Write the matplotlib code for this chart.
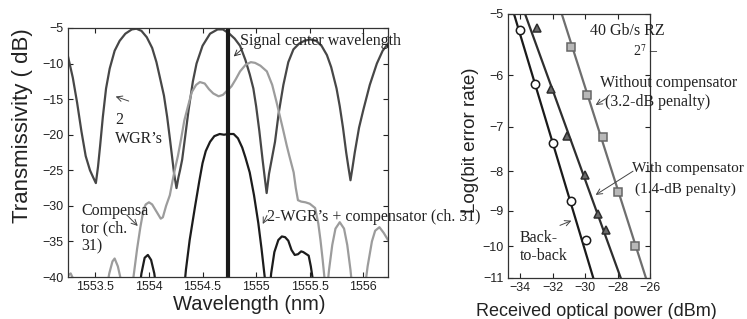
import numpy as np
import matplotlib
matplotlib.use("Agg")
import matplotlib.pyplot as plt
from matplotlib.ticker import FixedLocator, NullLocator

plt.rcParams['font.family'] = ['Liberation Sans', 'DejaVu Sans']
plt.rcParams['mathtext.fontset'] = 'stix'

SERIF = ['Liberation Serif', 'DejaVu Serif']

# ---------------- Left panel data: transmissivity spectra ----------------
wgr_x = [1553.245, 1553.29, 1553.33, 1553.37, 1553.41, 1553.45, 1553.48, 1553.505,
         1553.525, 1553.545, 1553.57, 1553.60, 1553.634, 1553.68, 1553.727, 1553.78,
         1553.84, 1553.883, 1553.93, 1553.98, 1554.03, 1554.07, 1554.10, 1554.14,
         1554.17, 1554.195, 1554.215, 1554.235, 1554.257, 1554.275, 1554.29, 1554.31,
         1554.335, 1554.37, 1554.41, 1554.444, 1554.50, 1554.57, 1554.64, 1554.69,
         1554.75, 1554.80, 1554.85, 1554.90, 1554.94, 1554.974, 1555.00, 1555.03,
         1555.06, 1555.08, 1555.098, 1555.12, 1555.145, 1555.176, 1555.21, 1555.254,
         1555.30, 1555.348, 1555.40, 1555.45, 1555.503, 1555.56, 1555.61, 1555.66,
         1555.70, 1555.75, 1555.78, 1555.81, 1555.84, 1555.86, 1555.88, 1555.90,
         1555.92, 1555.96, 1556.00, 1556.06, 1556.126, 1556.18, 1556.23]
wgr_y = [-9.0, -12.0, -15.5, -19.5, -23.0, -25.0, -26.0, -26.8,
         -24.5, -21.5, -17.5, -13.5, -10.7, -8.2, -6.8, -5.8,
         -5.2, -5.1, -5.4, -6.3, -7.8, -9.8, -11.8, -14.5,
         -17.5, -20.5, -23.0, -25.5, -27.5, -26.0, -25.0, -23.5,
         -20.6, -16.5, -12.5, -10.0, -7.5, -5.8, -5.2, -5.2,
         -5.8, -6.5, -7.5, -9.5, -11.5, -13.5, -16.0, -19.5,
         -23.5, -26.0, -28.2, -25.5, -23.5, -21.0, -17.0, -13.0,
         -9.8, -8.0, -7.2, -6.8, -6.6, -6.8, -7.5, -8.8,
         -10.5, -13.5, -16.0, -19.0, -22.5, -24.5, -26.4, -24.5,
         -22.5, -19.0, -16.5, -13.0, -10.0, -8.2, -7.2]

comp_x = [1553.245, 1553.27, 1553.30, 1553.34, np.nan,
          1553.60, 1553.63, 1553.66, 1553.68, 1553.71, 1553.74, 1553.77, np.nan,
          1553.83, 1553.86, 1553.89, 1553.92, 1553.95, 1553.97, 1554.00, 1554.03,
          1554.07, 1554.11, 1554.13, 1554.16, 1554.195, 1554.22, 1554.24, 1554.27,
          1554.30, 1554.33, 1554.366, 1554.40, 1554.44, 1554.475, 1554.52, 1554.56,
          1554.60, 1554.65, 1554.69, 1554.73, 1554.77, 1554.81, 1554.85, 1554.90,
          1554.95, 1554.99, 1555.04, 1555.10, 1555.15, 1555.19, 1555.22, 1555.25,
          1555.285, 1555.31, 1555.35, 1555.37, 1555.39, 1555.42, 1555.46, 1555.50,
          1555.55, 1555.58, 1555.60, 1555.62, 1555.64, 1555.65, np.nan,
          1555.66, 1555.68, 1555.71, 1555.74, 1555.78, 1555.82, 1555.85, 1555.88, 1555.90, np.nan,
          1556.01, 1556.04, 1556.08, 1556.11, 1556.15, 1556.19, 1556.23]
comp_y = [-39.8, -39.5, -40.5, -43.0, np.nan,
          -42.0, -39.5, -37.8, -37.4, -38.5, -40.5, -43.0, np.nan,
          -43.0, -39.5, -36.0, -33.0, -30.5, -29.8, -29.5, -29.8,
          -30.8, -31.8, -31.6, -30.0, -28.5, -26.5, -25.0, -23.0,
          -20.6, -18.0, -15.9, -14.0, -13.0, -12.6, -12.8, -13.6,
          -14.2, -14.6, -14.4, -13.8, -13.2, -12.2, -11.1, -10.2,
          -9.8, -9.9, -10.3, -11.1, -13.0, -15.4, -17.3, -19.2,
          -21.5, -23.0, -25.3, -27.5, -29.2, -29.4, -29.5, -29.7,
          -30.3, -32.5, -34.8, -37.5, -40.5, -43.0, np.nan,
          -42.0, -39.0, -35.5, -33.2, -32.3, -33.2, -35.5, -39.0, -42.0, np.nan,
          -42.0, -38.5, -35.0, -33.5, -33.0, -33.8, -34.8]

both_x = [1553.90, 1553.93, 1553.96, 1553.99, 1554.02, 1554.05, 1554.08, np.nan,
          1554.32, 1554.345, 1554.38, 1554.43, 1554.47, 1554.50, 1554.53, 1554.57,
          1554.61, 1554.66, 1554.70, 1554.74, 1554.79, 1554.83, 1554.87, 1554.90,
          1554.94, 1554.98, 1555.02, 1555.05, 1555.08, 1555.10, np.nan,
          1555.12, 1555.14, 1555.17, 1555.207, 1555.24, 1555.27, 1555.30, 1555.33,
          1555.36, 1555.39, 1555.42, 1555.44, 1555.47, 1555.49, 1555.51, 1555.53, 1555.55]
both_y = [-43.0, -39.5, -37.3, -36.9, -37.6, -39.5, -43.0, np.nan,
          -43.0, -39.0, -34.8, -30.1, -26.5, -24.0, -22.3, -21.0,
          -20.2, -19.9, -20.0, -19.9, -19.9, -20.5, -21.8, -23.2,
          -25.3, -28.5, -32.4, -36.0, -40.0, -43.0, np.nan,
          -43.0, -39.5, -36.5, -34.8, -34.3, -34.4, -34.9, -36.2,
          -36.9, -36.8, -36.4, -36.5, -36.8, -37.0, -38.5, -40.5, -43.0]

signal_wl = 1554.737

left_xticks = [1553.5, 1554, 1554.5, 1555, 1555.5, 1556]
left_xticklabels = ['1553.5', '1554', '1554.5', '1555', '1555.5', '1556']
left_yticks = [-40, -35, -30, -25, -20, -15, -10, -5]
left_yticklabels = ['\u221240', '\u221235', '\u221230', '\u221225', '\u221220', '\u221215', '\u221210', '\u22125']

# ---------------- Right panel data: BER curves ----------------
b2b_p = [-34.0, -33.08, -31.95, -30.88, -29.96]
b2b_ber = [-5.25, -6.17, -7.35, -8.73, -9.81]
with_p = [-32.97, -32.11, -31.13, -30.0, -29.22, -28.71]
with_ber = [-5.22, -6.25, -7.19, -8.08, -9.08, -9.52]
without_p = [-30.88, -29.86, -28.87, -27.95, -26.92]
without_ber = [-5.51, -6.36, -7.23, -8.51, -10.01]

fit_ber = [-5, -11]
b2b_fit_p = [-34.37, -29.49]
with_fit_p = [-33.69, -27.80]
without_fit_p = [-31.43, -26.25]

right_xticks = [-34, -32, -30, -28, -26]
right_xticklabels = ['\u221234', '\u221232', '\u221230', '\u221228', '\u221226']
right_yticks = [-11, -10, -9, -8, -7, -6, -5]
right_yticklabels = ['\u221211', '\u221210', '\u22129', '\u22128', '\u22127', '\u22126', '\u22125']

# ---------------- Figure ----------------
W, H = 747, 319
fig = plt.figure(figsize=(W / 100, H / 100), dpi=100)

def box(l, t, r, b):
    return [l / W, 1 - b / H, (r - l) / W, (b - t) / H]

ax1 = fig.add_axes(box(68, 28, 388, 277))
ax2 = fig.add_axes(box(508, 14, 650, 278))

# Left panel
ax1.plot(wgr_x, wgr_y, color='#474747', lw=1.6)
ax1.plot(comp_x, comp_y, color='#9c9c9c', lw=1.6)
ax1.plot(both_x, both_y, color='#1c1c1c', lw=1.6)
ax1.axvline(signal_wl, color='#1a1a1a', lw=3.0)
ax1.set_xlim(1553.245, 1556.23)
ax1.set_ylim(-40, -5)
ax1.xaxis.set_major_locator(FixedLocator(left_xticks))
ax1.set_xticklabels(left_xticklabels)
ax1.yaxis.set_major_locator(FixedLocator(left_yticks))
ax1.set_yticklabels(left_yticklabels)

for ax in (ax1, ax2):
    ax.tick_params(direction='in', top=True, right=True, length=3.5, width=0.8,
                   labelsize=9, colors='#222222', pad=3)
    for s in ax.spines.values():
        s.set_color('#333333')
        s.set_linewidth(0.9)

fig.text(23 / W, 1 - 126 / H, 'Transmissivity ( dB)', rotation=90, ha='center',
         va='center', fontsize=16, color='#222222')
fig.text(249 / W, 1 - 305 / H, 'Wavelength (nm)', ha='center', va='center',
         fontsize=14.5, color='#222222')

ax1.text(1554.85, -6.85, 'Signal center wavelength', fontsize=11.5, family=SERIF,
         ha='left', va='center', color='#222222', clip_on=False)
ax1.annotate('', xy=(1554.771, -9.26), xytext=(1554.896, -7.6),
             arrowprops=dict(arrowstyle='->', lw=0.7, color='#333333'))
ax1.text(1553.685, -19.3, '2\nWGR\u2019s', fontsize=11.5, family=SERIF, ha='left',
         va='center', linespacing=1.25, color='#222222')
ax1.annotate('', xy=(1553.665, -14.5), xytext=(1553.836, -15.4),
             arrowprops=dict(arrowstyle='->', lw=0.7, color='#444444'))
ax1.text(1553.37, -33.2, 'Compensa\ntor (ch.\n31)', fontsize=11.5, family=SERIF,
         ha='left', va='center', linespacing=1.15, color='#222222')
ax1.annotate('', xy=(1553.914, -33.1), xytext=(1553.774, -31.0),
             arrowprops=dict(arrowstyle='->', lw=0.7, color='#444444'))
ax1.text(1555.10, -31.5, '2-WGR\u2019s + compensator (ch. 31)', fontsize=11.5,
         family=SERIF, ha='left', va='center', color='#222222', clip_on=False)
ax1.annotate('', xy=(1555.05, -32.9), xytext=(1555.113, -31.0),
             arrowprops=dict(arrowstyle='->', lw=0.7, color='#444444'))

# Right panel
ax2.set_yscale('function', functions=(lambda y: -np.log10(np.abs(y)),
                                      lambda t: -10.0 ** (-t)))
ax2.plot(b2b_fit_p, fit_ber, color='#1a1a1a', lw=1.6)
ax2.plot(with_fit_p, fit_ber, color='#2e2e2e', lw=1.6)
ax2.plot(without_fit_p, fit_ber, color='#6e6e6e', lw=1.6)
ax2.plot(b2b_p, b2b_ber, ls='none', marker='o', ms=6, mfc='white', mec='#1a1a1a', mew=1.1)
ax2.plot(with_p, with_ber, ls='none', marker='^', ms=6, mfc='#6a6a6a', mec='#2e2e2e', mew=1.1)
ax2.plot(without_p, without_ber, ls='none', marker='s', ms=5.5, mfc='#b8b8b8', mec='#666666', mew=1.1)
ax2.set_xlim(-34.74, -26.0)
ax2.set_ylim(-11, -5)
ax2.xaxis.set_major_locator(FixedLocator(right_xticks))
ax2.set_xticklabels(right_xticklabels)
ax2.yaxis.set_major_locator(FixedLocator(right_yticks))
ax2.yaxis.set_minor_locator(NullLocator())
ax2.set_yticklabels(right_yticklabels)

fig.text(470 / W, 1 - 140 / H, 'Log(bit error rate)', rotation=90, ha='center',
         va='center', fontsize=13.5, color='#222222')
fig.text(596 / W, 1 - 312 / H, 'Received optical power (dBm)', ha='center',
         va='center', fontsize=13, color='#222222')

ax2.text(-29.69, -5.26, '40 Gb/s RZ', fontsize=11.5, family=SERIF, ha='left',
         va='center', color='#222222', clip_on=False)
ax2.text(-27.05, -5.58, '2$^{7}$ \u2013', fontsize=10, family=SERIF, ha='left',
         va='center', color='#222222', clip_on=False)
ax2.text(-29.08, -6.14, 'Without compensator', fontsize=11.5, family=SERIF,
         ha='left', va='center', color='#222222', clip_on=False)
ax2.text(-28.77, -6.5, '(3.2-dB penalty)', fontsize=11.5, family=SERIF,
         ha='left', va='center', color='#222222', clip_on=False)
ax2.annotate('', xy=(-29.49, -6.59), xytext=(-28.46, -6.39),
             arrowprops=dict(arrowstyle='->', lw=0.7, color='#444444'))
ax2.text(-27.1, -7.92, 'With compensator', fontsize=11, family=SERIF,
         ha='left', va='center', color='#222222', clip_on=False)
ax2.text(-26.9, -8.45, '(1.4-dB penalty)', fontsize=11, family=SERIF,
         ha='left', va='center', color='#222222', clip_on=False)
ax2.annotate('', xy=(-29.49, -8.62), xytext=(-26.9, -7.96),
             arrowprops=dict(arrowstyle='->', lw=0.7, color='#444444'),
             annotation_clip=False)
ax2.text(-34.0, -9.76, 'Back-', fontsize=11.5, family=SERIF, ha='left',
         va='center', color='#222222')
ax2.text(-34.0, -10.31, 'to-back', fontsize=11.5, family=SERIF, ha='left',
         va='center', color='#222222')
ax2.annotate('', xy=(-30.68, -9.24), xytext=(-31.7, -9.43),
             arrowprops=dict(arrowstyle='->', lw=0.7, color='#444444'))

fig.savefig('out.png', dpi=100)
